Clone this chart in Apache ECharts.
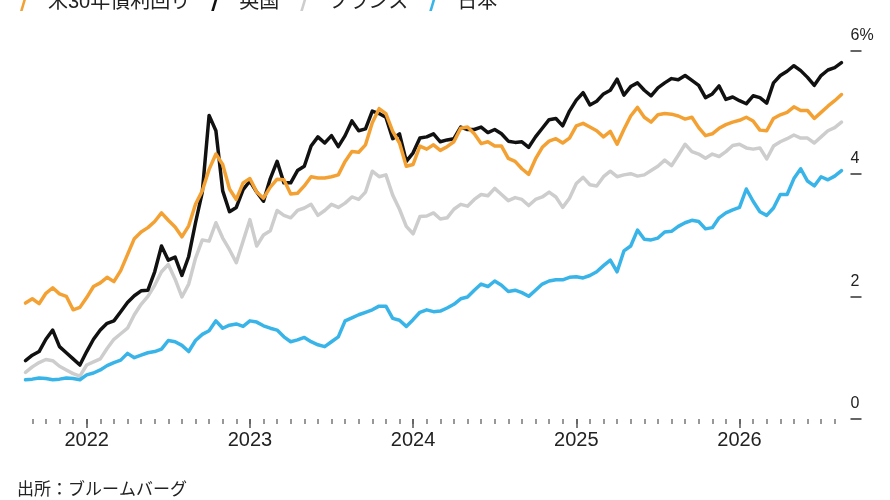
<!DOCTYPE html>
<html><head><meta charset="utf-8">
<script src="https://cdn.jsdelivr.net/npm/echarts@6/dist/echarts.min.js"></script>
<style>html,body{margin:0;padding:0;background:#fff}#c{width:890px;height:500px}</style>
</head><body><div id="c"></div>
<script>
const dates = [
"2021-08-16","2021-09-01","2021-09-16","2021-10-01","2021-10-16","2021-11-01","2021-11-16","2021-12-01","2021-12-16",
"2022-01-01","2022-01-16","2022-02-01","2022-02-16","2022-03-01","2022-03-16","2022-04-01","2022-04-16","2022-05-01","2022-05-16","2022-06-01","2022-06-16","2022-07-01","2022-07-16","2022-08-01","2022-08-16","2022-09-01","2022-09-16","2022-10-01","2022-10-16","2022-11-01","2022-11-16","2022-12-01","2022-12-16",
"2023-01-01","2023-01-16","2023-02-01","2023-02-16","2023-03-01","2023-03-16","2023-04-01","2023-04-16","2023-05-01","2023-05-16","2023-06-01","2023-06-16","2023-07-01","2023-07-16","2023-08-01","2023-08-16","2023-09-01","2023-09-16","2023-10-01","2023-10-16","2023-11-01","2023-11-16","2023-12-01","2023-12-16",
"2024-01-01","2024-01-16","2024-02-01","2024-02-16","2024-03-01","2024-03-16","2024-04-01","2024-04-16","2024-05-01","2024-05-16","2024-06-01","2024-06-16","2024-07-01","2024-07-16","2024-08-01","2024-08-16","2024-09-01","2024-09-16","2024-10-01","2024-10-16","2024-11-01","2024-11-16","2024-12-01","2024-12-16",
"2025-01-01","2025-01-16","2025-02-01","2025-02-16","2025-03-01","2025-03-16","2025-04-01","2025-04-16","2025-05-01","2025-05-16","2025-06-01","2025-06-16","2025-07-01","2025-07-16","2025-08-01","2025-08-16","2025-09-01","2025-09-16","2025-10-01","2025-10-16","2025-11-01","2025-11-16","2025-12-01","2025-12-16",
"2026-01-01","2026-01-16","2026-02-01","2026-02-16","2026-03-01","2026-03-16","2026-04-01","2026-04-16","2026-05-01","2026-05-16","2026-06-01","2026-06-16","2026-07-01","2026-07-16","2026-08-01","2026-08-16"
];

const usYield = [
1.89,1.96,1.88,2.05,2.14,2.04,2.00,1.78,1.82,1.98,
2.16,2.22,2.31,2.24,2.42,2.68,2.94,3.05,3.12,3.22,
3.36,3.24,3.13,2.97,3.15,3.50,3.72,4.07,4.32,4.15,
3.75,3.58,3.85,3.92,3.70,3.60,3.78,3.91,3.90,3.67,
3.68,3.80,3.95,3.93,3.93,3.95,3.98,4.20,4.36,4.35,
4.47,4.83,5.06,4.98,4.69,4.50,4.12,4.15,4.45,4.40,
4.47,4.38,4.44,4.52,4.74,4.76,4.65,4.49,4.52,4.45,
4.45,4.25,4.20,4.08,3.99,4.24,4.43,4.53,4.57,4.50,
4.58,4.78,4.82,4.76,4.70,4.60,4.69,4.48,4.72,4.94,
5.08,4.92,4.84,4.96,4.98,4.97,4.94,4.89,4.92,4.75,
4.62,4.65,4.74,4.80,4.84,4.87,4.92,4.86,4.71,4.70,
4.90,4.96,5.00,5.09,5.03,5.03,4.90,5.00,5.10,5.19,
5.29];

const ukYield = [
0.95,1.04,1.10,1.30,1.45,1.18,1.08,0.98,0.88,1.10,
1.30,1.45,1.56,1.60,1.75,1.90,2.01,2.09,2.10,2.40,
2.82,2.59,2.64,2.34,2.65,3.20,3.70,4.95,4.70,3.72,
3.38,3.45,3.74,3.88,3.70,3.55,3.92,4.20,3.85,3.85,
4.05,4.12,4.45,4.60,4.50,4.62,4.44,4.62,4.86,4.70,
4.73,5.02,4.98,4.92,4.57,4.65,4.20,4.34,4.58,4.60,
4.65,4.52,4.55,4.57,4.76,4.72,4.72,4.76,4.67,4.72,
4.65,4.53,4.51,4.52,4.43,4.60,4.74,4.88,4.90,4.78,
5.02,5.20,5.32,5.12,5.18,5.30,5.36,5.54,5.28,5.42,
5.48,5.36,5.27,5.40,5.48,5.55,5.53,5.60,5.52,5.44,
5.24,5.30,5.43,5.21,5.25,5.19,5.14,5.27,5.24,5.15,
5.48,5.60,5.67,5.76,5.68,5.57,5.44,5.60,5.69,5.73,
5.81];

const frYield = [
0.76,0.85,0.92,0.97,0.95,0.86,0.80,0.74,0.70,0.88,
0.93,0.98,1.15,1.30,1.39,1.48,1.70,1.87,2.00,2.18,
2.40,2.52,2.28,1.99,2.20,2.62,2.92,2.90,3.20,2.95,
2.76,2.55,2.90,3.25,2.82,3.00,3.07,3.40,3.32,3.28,
3.40,3.44,3.50,3.32,3.40,3.50,3.45,3.52,3.62,3.58,
3.70,4.04,3.95,3.98,3.65,3.42,3.14,3.02,3.30,3.31,
3.36,3.26,3.28,3.42,3.50,3.47,3.58,3.66,3.64,3.76,
3.66,3.56,3.61,3.58,3.48,3.58,3.62,3.70,3.62,3.45,
3.60,3.84,3.94,3.82,3.80,3.95,4.04,3.95,3.98,4.00,
3.96,3.98,4.05,4.12,4.22,4.13,4.30,4.48,4.36,4.32,
4.25,4.32,4.28,4.36,4.46,4.48,4.42,4.40,4.42,4.24,
4.45,4.52,4.57,4.63,4.58,4.58,4.50,4.60,4.70,4.75,
4.84];

const jpYield = [
0.64,0.65,0.67,0.66,0.64,0.65,0.67,0.66,0.64,0.72,
0.75,0.80,0.87,0.92,0.96,1.07,1.00,1.04,1.08,1.10,
1.14,1.28,1.26,1.20,1.10,1.28,1.38,1.44,1.60,1.48,
1.53,1.55,1.51,1.60,1.58,1.52,1.48,1.45,1.34,1.26,
1.29,1.33,1.26,1.21,1.18,1.26,1.34,1.60,1.65,1.70,
1.74,1.78,1.84,1.84,1.64,1.61,1.51,1.62,1.74,1.78,
1.75,1.76,1.81,1.87,1.96,1.99,2.10,2.20,2.16,2.25,
2.18,2.08,2.10,2.06,2.00,2.10,2.20,2.25,2.27,2.27,
2.31,2.32,2.30,2.34,2.40,2.50,2.59,2.40,2.74,2.82,
3.08,2.93,2.92,2.95,3.05,3.06,3.14,3.20,3.24,3.22,
3.10,3.12,3.28,3.36,3.41,3.45,3.75,3.55,3.38,3.32,
3.44,3.66,3.66,3.92,4.08,3.88,3.80,3.95,3.90,3.96,
4.05];

const seriesNames = ["米30年債利回り", "英国", "フランス", "日本"];
const yTicks = [0, 2, 4, 6];
const sourceText = "出所：ブルームバーグ";

const FONT = '"Liberation Sans", "Noto Sans CJK JP", sans-serif';
const colors = ["#F4A134", "#111111", "#CDCDCD", "#38B4E8"];
const slash = 'path://M0,20 L6,0 L9,0 L3,20 Z';

const chart = echarts.init(document.getElementById('c'));
chart.setOption({
  animation: false,
  backgroundColor: '#ffffff',
  textStyle: { fontFamily: FONT },
  grid: { left: 25.5, right: 48.5, top: 51, bottom: 81, containLabel: false },
  legend: {
    data: seriesNames,
    left: 15, top: -13,
    itemWidth: 8, itemHeight: 20, itemGap: 21,
    icon: slash,
    textStyle: { fontSize: 20, color: '#222', fontFamily: FONT, padding: [0, 0, 0, 15] }
  },
  xAxis: [{
    type: 'category', data: dates, boundaryGap: false,
    axisLine: { show: false },
    axisTick: { show: true, length: 5, interval: (i, v) => v.slice(8) === '01',
      lineStyle: { color: '#777', width: 1.5 } },
    axisLabel: { show: false },
    splitLine: { show: false }
  }, {
    type: 'category', data: dates, boundaryGap: false, position: 'bottom',
    axisLine: { show: false },
    axisTick: { show: true, length: 9, interval: (i, v) => v.slice(5) === '01-01',
      lineStyle: { color: '#555', width: 1.5 } },
    axisLabel: { show: true, interval: (i, v) => v.slice(5) === '01-01',
      formatter: v => v.slice(0, 4), fontSize: 20, color: '#222', margin: 11, fontFamily: FONT },
    splitLine: { show: false }
  }],
  yAxis: {
    type: 'value', position: 'right', offset: 9,
    min: 0, max: 6, interval: 2,
    axisLine: { show: false },
    axisTick: { show: true, length: 11, lineStyle: { color: '#333', width: 1.5 } },
    splitLine: { show: false },
    axisLabel: {
      margin: 0, align: 'left', verticalAlign: 'bottom', padding: [0, 0, 7, 0],
      fontSize: 16, color: '#222', fontFamily: FONT,
      formatter: v => (v === yTicks[yTicks.length - 1] ? v + '%' : String(v))
    }
  },
  series: [
    { name: seriesNames[0], type: 'line', data: usYield, z: 5 },
    { name: seriesNames[1], type: 'line', data: ukYield, z: 4 },
    { name: seriesNames[2], type: 'line', data: frYield, z: 2 },
    { name: seriesNames[3], type: 'line', data: jpYield, z: 3 }
  ].map((s, k) => Object.assign(s, {
    showSymbol: false, symbol: 'none', smooth: false,
    color: colors[k],
    lineStyle: { width: 3.5, color: colors[k], join: 'round', cap: 'round' }
  })),
  graphic: [{
    type: 'text', left: 17, top: 482,
    style: { text: sourceText, fontSize: 17, fill: '#222', fontFamily: FONT }
  }]
});
</script>
</body></html>
